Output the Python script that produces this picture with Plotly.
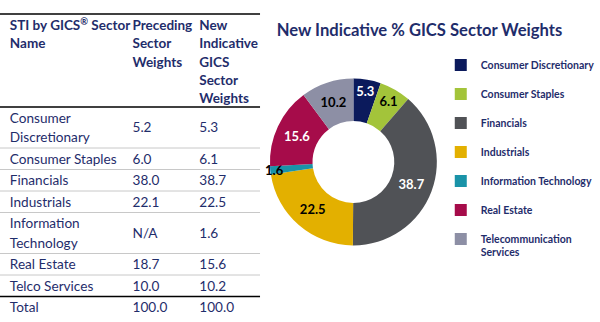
import plotly.graph_objects as go

# ---------------- data ----------------
header_labels = ["STI by GICS<sup>®</sup> Sector<br>Name",
                 "Preceding<br>Sector<br>Weights",
                 "New<br>Indicative<br>GICS<br>Sector<br>Weights"]
table_sectors = ["Consumer<br>Discretionary", "Consumer Staples", "Financials",
                 "Industrials", "Information<br>Technology", "Real Estate",
                 "Telco Services", "Total"]
preceding_weights = ["5.2", "6.0", "38.0", "22.1", "N/A", "18.7", "10.0", "100.0"]
new_weights = ["5.3", "6.1", "38.7", "22.5", "1.6", "15.6", "10.2", "100.0"]

pie_labels = ["Consumer Discretionary", "Consumer Staples", "Financials",
              "Industrials", "Information Technology", "Real Estate",
              "Telecommunication<br>Services"]
pie_values = [5.3, 6.1, 38.7, 22.5, 1.6, 15.6, 10.2]
pie_colors = ["#0B1A5C", "#A3C43A", "#505256", "#E3B000", "#1A93A8", "#A60C4A", "#8D8FA5"]
pie_text_colors = ["white", "black", "white", "black", "black", "white", "black"]

title_text = "New Indicative % GICS Sector Weights"

# ---------------- style ----------------
NAVY = "#1F2D6B"
FONT = "Lato"
W, H = 600, 322
TABLE_W = 265
col_x = [10, 135, 203]
top_line_y = 14
header_bottom = 107
header_first_line = 27
header_pitch = 18.1
body_pitch = 19.5
body_shift = 1.5
line1_h, line2_h = 21.5, 41

# row geometry (pixel units on the table axes)
row_top = [header_bottom]
row_center = []
for s in table_sectors:
    h = line2_h if "<br>" in s else line1_h
    row_center.append(row_top[-1] + h / 2)
    row_top.append(row_top[-1] + h)

fig = go.Figure()

# header text (one point per text line)
hx, hy, ht = [], [], []
for cx, lab in zip(col_x, header_labels):
    for k, part in enumerate(lab.split("<br>")):
        hx.append(cx)
        hy.append(header_first_line + k * header_pitch)
        ht.append(part)
fig.add_trace(go.Scatter(
    x=hx, y=hy, text=ht, mode="text",
    textposition="middle right", hoverinfo="skip", showlegend=False,
    textfont=dict(family=FONT, size=13.5, color=NAVY, weight="bold"),
    xaxis="x", yaxis="y"))

# body text (one point per text line)
bx, by, bt = [], [], []
for cx, col in zip(col_x, [table_sectors, preceding_weights, new_weights]):
    for yc, cell in zip(row_center, col):
        parts = cell.split("<br>")
        n = len(parts)
        for k, part in enumerate(parts):
            bx.append(cx)
            by.append(yc + body_shift + (k - (n - 1) / 2) * body_pitch)
            bt.append(part)
fig.add_trace(go.Scatter(
    x=bx, y=by, text=bt, mode="text",
    textposition="middle right", hoverinfo="skip", showlegend=False,
    textfont=dict(family=FONT, size=13.6, color=NAVY),
    xaxis="x", yaxis="y"))

# table rules
shapes = []
def hline(y, color, width):
    shapes.append(dict(type="line", xref="x", yref="y", x0=0, x1=TABLE_W,
                       y0=y, y1=y, line=dict(color=color, width=width)))
hline(top_line_y, "#000000", 1.5)
hline(header_bottom, "#000000", 1.5)
for i in range(1, len(table_sectors)):
    if i == len(table_sectors) - 1:
        hline(row_top[i], "#000000", 1.5)
    else:
        hline(row_top[i], "#C8C8C8", 1)

# legend labels: small glyphs, two text lines per entry for the row pitch
legend_labels = []
for lab in pie_labels:
    parts = lab.split("<br>")
    if len(parts) == 1:
        parts.append("&nbsp;")
    legend_labels.append("<br>".join(
        '<span style="font-size:10.5px">%s</span>' % p for p in parts))

# donut
fig.add_trace(go.Pie(
    labels=legend_labels, values=pie_values, hole=0.49, sort=False,
    direction="clockwise", rotation=0,
    marker=dict(colors=pie_colors, line=dict(width=0)),
    texttemplate="%{value:.1f}", textposition="inside",
    insidetextorientation="horizontal",
    textfont=dict(family=FONT, size=13, color=pie_text_colors, weight="bold"),
    domain=dict(x=[275 / W, 445 / W], y=[1 - 247 / H, 1 - 77 / H]),
    hoverinfo="value",
))

fig.update_layout(
    width=W, height=H, margin=dict(l=0, r=0, t=0, b=0),
    paper_bgcolor="white", plot_bgcolor="white",
    shapes=shapes,
    uniformtext=dict(minsize=13, mode="show"),
    xaxis=dict(domain=[0, TABLE_W / W], range=[0, TABLE_W], visible=False, fixedrange=True),
    yaxis=dict(domain=[0, 1], range=[H, 0], visible=False, fixedrange=True),
    title=dict(text=title_text, x=282 / W, xanchor="left", xref="paper",
               y=1 - 30 / H, yanchor="middle", yref="paper",
               font=dict(family=FONT, size=16.6, color=NAVY, weight="bold")),
    legend=dict(x=(489 - 40) / W, xanchor="left", y=1 - 52 / H, yanchor="top",
                font=dict(family=FONT, size=10, color=NAVY, weight="bold"),
                bgcolor="rgba(0,0,0,0)", valign="top", traceorder="normal"),
)

fig.write_html("out.html")
